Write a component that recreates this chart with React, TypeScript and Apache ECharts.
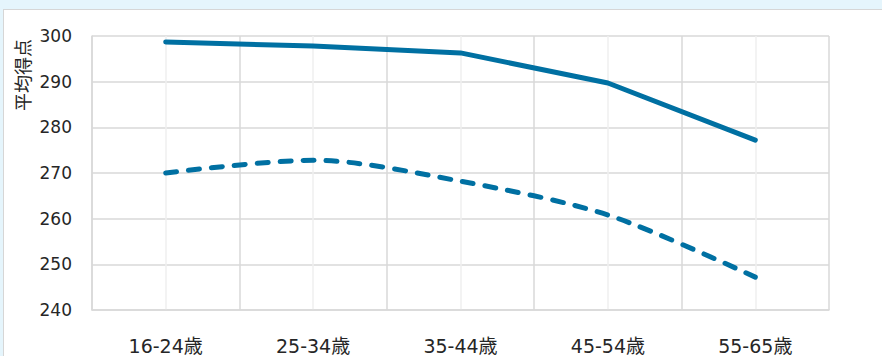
import React, { useEffect, useRef } from "react";
import * as echarts from "echarts";

// Age groups on the category axis
const ageGroups = ["16-24歳", "25-34歳", "35-44歳", "45-54歳", "55-65歳"];
// Average score, solid line
const solidScores = [298.7, 297.8, 296.3, 289.7, 277.2];
// Average score, dashed line
const dashedScores = [270.0, 272.8, 268.2, 260.8, 247.2];
// Value axis range
const yMin = 240;
const yMax = 300;
const yStep = 10;
const yAxisTitle = "平均得点";

const LINE_COLOR = "#0070a2";
const GRID_MAJOR = "#d9d9d9";
const GRID_MINOR = "#efefef";
const TEXT_COLOR = "#262626";
const FONT = "'DejaVu Sans', 'Noto Sans CJK JP', sans-serif";

export default function App() {
  const ref = useRef<HTMLDivElement>(null);

  useEffect(() => {
    if (!ref.current) return;
    const chart = echarts.init(ref.current, undefined, { renderer: "svg" });
    chart.setOption({
      animation: false,
      grid: { left: 92, top: 36, right: 53, bottom: 46, containLabel: false },
      xAxis: [
        {
          type: "category",
          data: ageGroups,
          boundaryGap: true,
          axisLine: { show: true, lineStyle: { color: GRID_MAJOR, width: 1.5 } },
          axisTick: { show: false },
          axisLabel: {
            color: TEXT_COLOR,
            fontFamily: FONT,
            fontSize: 19,
            margin: 26,
          },
          splitLine: { show: true, lineStyle: { color: GRID_MAJOR, width: 1.5 } },
          z: 1,
        },
        {
          // helper axis: light lines through each category centre
          type: "value",
          min: 0,
          max: ageGroups.length * 2,
          interval: 2,
          position: "bottom",
          axisLine: { show: false },
          axisTick: { show: false },
          axisLabel: { show: false },
          splitLine: { show: false },
          minorTick: { show: false, splitNumber: 2 },
          minorSplitLine: { show: true, lineStyle: { color: GRID_MINOR, width: 1.5 } },
          z: 0,
        },
      ],
      yAxis: {
        type: "value",
        min: yMin,
        max: yMax,
        interval: yStep,
        axisLine: { show: true, lineStyle: { color: GRID_MAJOR, width: 1.5 } },
        axisTick: { show: false },
        axisLabel: {
          color: TEXT_COLOR,
          fontFamily: FONT,
          fontSize: 17,
          margin: 20,
        },
        splitLine: { show: true, lineStyle: { color: GRID_MAJOR, width: 1.5 } },
      },
      graphic: [
        {
          type: "text",
          x: 23,
          y: 75,
          rotation: Math.PI / 2,
          style: {
            text: yAxisTitle,
            fill: TEXT_COLOR,
            font: `18px ${FONT}`,
            align: "center",
            verticalAlign: "middle",
          },
        },
      ],
      series: [
        {
          type: "line",
          xAxisIndex: 0,
          data: solidScores,
          showSymbol: false,
          symbol: "none",
          lineStyle: { color: LINE_COLOR, width: 5, cap: "round", join: "round" },
          z: 5,
        },
        {
          type: "line",
          xAxisIndex: 0,
          data: dashedScores,
          smooth: 0.3,
          showSymbol: false,
          symbol: "none",
          lineStyle: {
            color: LINE_COLOR,
            width: 5,
            type: [11, 12],
            cap: "round",
            join: "round",
          },
          z: 5,
        },
      ],
    });
    return () => chart.dispose();
  }, []);

  return (
    <div
      style={{
        position: "fixed",
        left: 0,
        top: 0,
        width: 882,
        height: 356,
        background: "#e5f5fc",
        overflow: "hidden",
      }}
    >
      <div
        style={{
          position: "absolute",
          left: 3,
          top: 9,
          width: 900,
          height: 400,
          background: "#ffffff",
          borderLeft: "1.5px solid #d6d6d6",
          borderTop: "1.5px solid #d6d6d6",
        }}
      />
      <div
        ref={ref}
        style={{ position: "absolute", left: 0, top: 0, width: 882, height: 356 }}
      />
    </div>
  );
}
